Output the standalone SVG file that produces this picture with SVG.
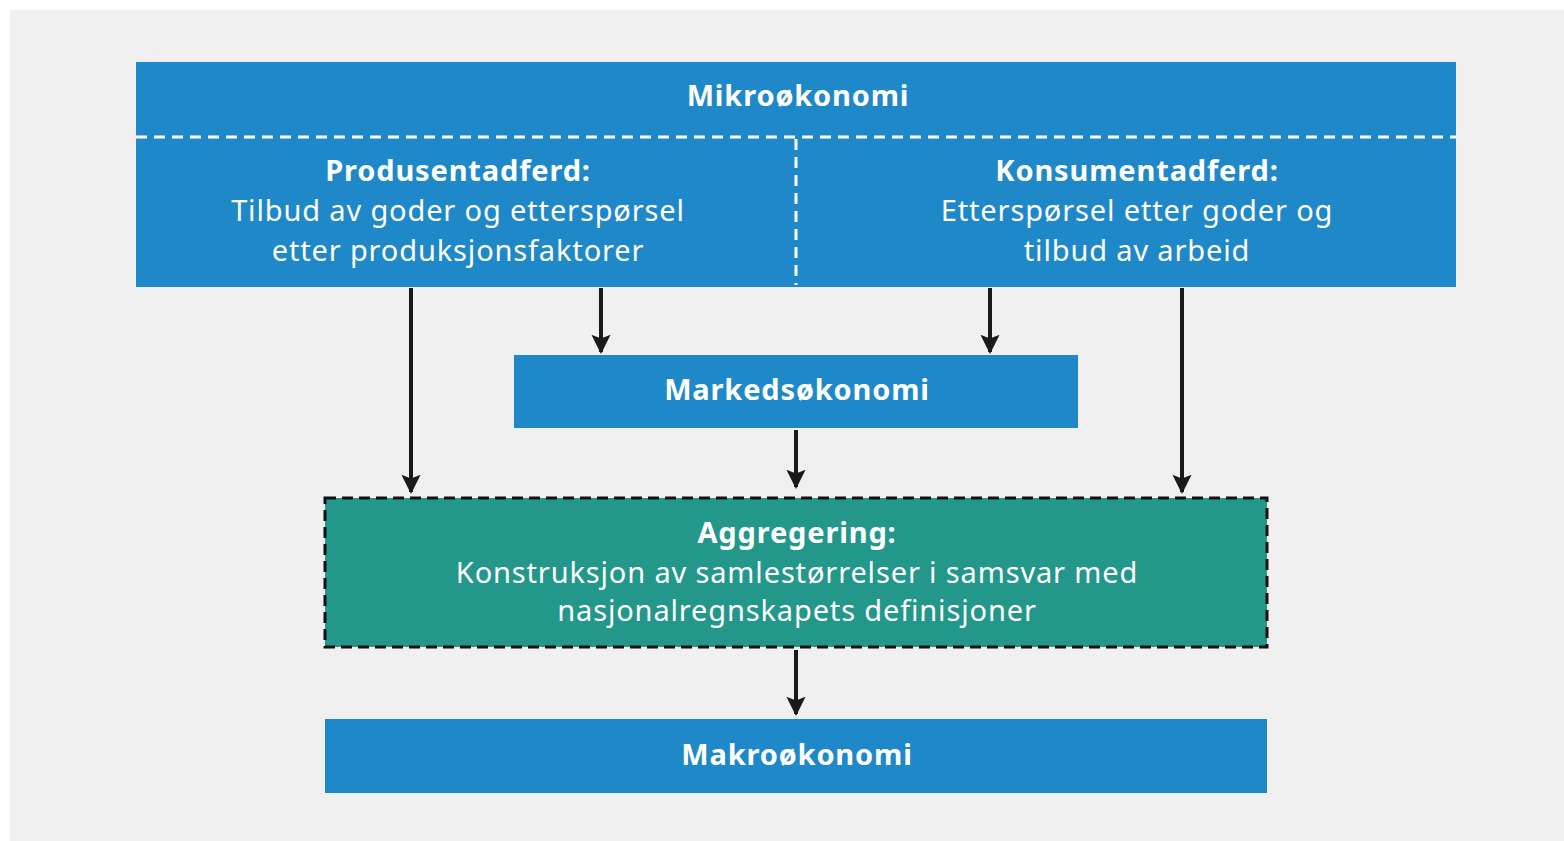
<svg xmlns="http://www.w3.org/2000/svg" width="1564" height="841" viewBox="0 0 1564 841">
<defs>
<marker id="ah" viewBox="0 0 10 10" refX="9" refY="5" markerWidth="4.8" markerHeight="4.8" orient="auto" markerUnits="strokeWidth">
<path d="M0,0 L10,5 L0,10 L2,5 z" fill="#1a1a1a"/>
</marker>
<style>
.blue{fill:#1e88c8}
.teal{fill:#22978a;stroke:#111;stroke-width:3;stroke-dasharray:11 6}
.t{font-family:"Noto Sans","Open Sans",sans-serif;fill:#fff;text-anchor:middle;font-size:29px;letter-spacing:0.85px}
.b{font-weight:bold}
.wd{stroke:#fff;stroke-width:3;stroke-dasharray:11 7;fill:none}
.c{stroke:#1a1a1a;stroke-width:4;fill:none;marker-end:url(#ah)}
</style>
</defs>
<rect x="0" y="0" width="1564" height="841" fill="#ffffff"/>
<rect x="10" y="10" width="1554" height="831" fill="#f0f0f0"/>
<g id="mikro">
<rect class="blue" x="136" y="62" width="1320" height="225"/>
<line class="wd" x1="136" y1="137" x2="1456" y2="137"/>
<line class="wd" x1="796" y1="139" x2="796" y2="285"/>
<text class="t b" x="798" y="106">Mikroøkonomi</text>
</g>
<g id="produsent">
<text class="t b" x="458" y="181">Produsentadferd:</text>
<text class="t" x="458" y="221">Tilbud av goder og etterspørsel</text>
<text class="t" x="458" y="261">etter produksjonsfaktorer</text>
</g>
<g id="konsument">
<text class="t b" x="1137" y="181">Konsumentadferd:</text>
<text class="t" x="1137" y="221">Etterspørsel etter goder og</text>
<text class="t" x="1137" y="261">tilbud av arbeid</text>
</g>
<g id="marked">
<rect class="blue" x="514" y="355" width="564" height="73"/>
<text class="t b" x="797" y="400">Markedsøkonomi</text>
</g>
<g id="aggregering">
<rect class="teal" x="325" y="498" width="942" height="149"/>
<text class="t b" x="797" y="543">Aggregering:</text>
<text class="t" x="797" y="583">Konstruksjon av samlestørrelser i samsvar med</text>
<text class="t" x="797" y="621">nasjonalregnskapets definisjoner</text>
</g>
<g id="makro">
<rect class="blue" x="325" y="719" width="942" height="74"/>
<text class="t b" x="797" y="765">Makroøkonomi</text>
</g>
<g id="connectors">
<line class="c" x1="411" y1="288" x2="411" y2="492"/>
<line class="c" x1="601" y1="288" x2="601" y2="352"/>
<line class="c" x1="990" y1="288" x2="990" y2="352"/>
<line class="c" x1="1182" y1="288" x2="1182" y2="492"/>
<line class="c" x1="796" y1="430" x2="796" y2="487"/>
<line class="c" x1="796" y1="650" x2="796" y2="714"/>
</g>
</svg>
